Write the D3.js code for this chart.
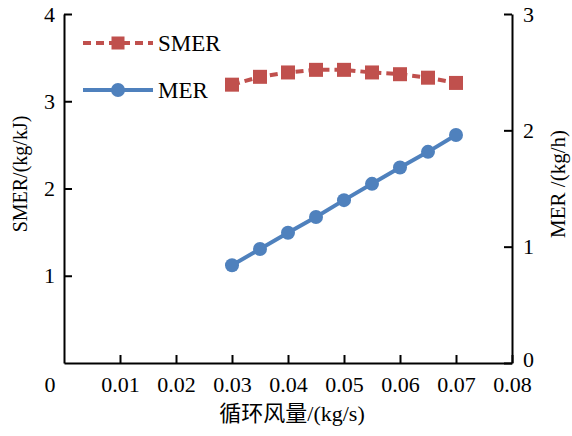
<!DOCTYPE html>
<html>
<head>
<meta charset="utf-8">
<script src="https://cdn.jsdelivr.net/npm/d3@7"></script>
<style>
  body { margin: 0; background: #fff; }
</style>
</head>
<body>
<div id="chart"></div>
<script>
// data
const flow = [0.03, 0.035, 0.04, 0.045, 0.05, 0.055, 0.06, 0.065, 0.07];
const smer = [3.19, 3.28, 3.33, 3.36, 3.36, 3.33, 3.31, 3.27, 3.21];
const mer = [0.84, 0.98, 1.12, 1.255, 1.40, 1.54, 1.68, 1.815, 1.96];
const xTicks = [0.01, 0.02, 0.03, 0.04, 0.05, 0.06, 0.07, 0.08];
const leftTicks = [1, 2, 3, 4];
const rightTicks = [0, 1, 2, 3];

const width = 572, height = 436;
const margin = { top: 14, right: 60, bottom: 73, left: 64 };
const red = '#C0504D', blue = '#4F81BD';
const serif = '"Liberation Serif", "Times New Roman", serif';
const cjk = '"Liberation Serif", "Noto Sans CJK SC", serif';

const svg = d3.select('#chart').append('svg')
  .attr('width', width)
  .attr('height', height)
  .style('font-family', serif);

const x = d3.scaleLinear().domain([0, 0.08]).range([margin.left, width - margin.right]);
const yL = d3.scaleLinear().domain([0, 4]).range([height - margin.bottom, margin.top]);
const yR = d3.scaleLinear().domain([0, 3]).range([height - margin.bottom, margin.top]);

function styleAxis(g) {
  g.attr('font-family', null).attr('font-size', null);
  g.select('.domain').attr('stroke', '#000').attr('stroke-width', 2);
  g.selectAll('.tick line').attr('stroke', '#000').attr('stroke-width', 2);
  g.selectAll('text').style('font-size', '22px').style('font-family', serif).attr('fill', '#000');
}

// x axis - ticks point inward
svg.append('g')
  .attr('transform', `translate(0,${yL(0)})`)
  .call(d3.axisBottom(x).tickValues(xTicks).tickSizeInner(-8).tickSizeOuter(0).tickPadding(13)
    .tickFormat(d => d3.format('.2f')(d)))
  .call(styleAxis);

// x zero label, sits lower-left like the original
svg.append('text')
  .attr('x', 50).attr('y', 392)
  .attr('text-anchor', 'middle')
  .style('font-size', '22px')
  .text('0');

// left axis
svg.append('g')
  .attr('transform', `translate(${x(0)},0)`)
  .call(d3.axisLeft(yL).tickValues(leftTicks).tickSizeInner(-8).tickSizeOuter(0).tickPadding(9)
    .tickFormat(d3.format('d')))
  .call(styleAxis);

// right axis
const gr = svg.append('g')
  .attr('transform', `translate(${x(0.08)},0)`)
  .call(d3.axisRight(yR).tickValues(rightTicks).tickSizeInner(-8).tickSizeOuter(0).tickPadding(11)
    .tickFormat(d3.format('d')))
  .call(styleAxis);
// lift the bottom "0" a little so it clears the 0.08 label
gr.selectAll('.tick text').filter(d => d === 0).attr('dy', '0.15em');

// axis titles
svg.append('text')
  .attr('x', 292).attr('y', 421)
  .attr('text-anchor', 'middle')
  .style('font-size', '22px')
  .style('font-family', cjk)
  .text('循环风量/(kg/s)');

svg.append('text')
  .attr('transform', `translate(27,174) rotate(-90)`)
  .attr('text-anchor', 'middle')
  .style('font-size', '20px')
  .text('SMER/(kg/kJ)');

svg.append('text')
  .attr('transform', `translate(565,184) rotate(-90)`)
  .attr('text-anchor', 'middle')
  .style('font-size', '21px')
  .text('MER /(kg/h)');

// SMER series (dashed, squares)
const lineL = d3.line().x((d, i) => x(flow[i])).y(d => yL(d));
svg.append('path')
  .datum(smer)
  .attr('d', lineL)
  .attr('fill', 'none')
  .attr('stroke', red)
  .attr('stroke-width', 4)
  .attr('stroke-dasharray', '8,5');
svg.selectAll('.sq')
  .data(smer)
  .enter()
  .append('rect')
  .attr('x', (d, i) => x(flow[i]) - 7)
  .attr('y', d => yL(d) - 7)
  .attr('width', 14).attr('height', 14)
  .attr('fill', red);

// MER series (solid, circles)
const lineR = d3.line().x((d, i) => x(flow[i])).y(d => yR(d));
svg.append('path')
  .datum(mer)
  .attr('d', lineR)
  .attr('fill', 'none')
  .attr('stroke', blue)
  .attr('stroke-width', 4);
svg.selectAll('.dot')
  .data(mer)
  .enter()
  .append('circle')
  .attr('cx', (d, i) => x(flow[i]))
  .attr('cy', d => yR(d))
  .attr('r', 7)
  .attr('fill', blue);

// legend
const leg = svg.append('g');
leg.append('line')
  .attr('x1', 83).attr('x2', 153).attr('y1', 43).attr('y2', 43)
  .attr('stroke', red).attr('stroke-width', 4).attr('stroke-dasharray', '8,5');
leg.append('rect')
  .attr('x', 111.5).attr('y', 36.5).attr('width', 13).attr('height', 13).attr('fill', red);
leg.append('text')
  .attr('x', 158).attr('y', 43).attr('dy', '0.35em')
  .style('font-size', '23px').text('SMER');
leg.append('line')
  .attr('x1', 83).attr('x2', 153).attr('y1', 90).attr('y2', 90)
  .attr('stroke', blue).attr('stroke-width', 4);
leg.append('circle')
  .attr('cx', 118).attr('cy', 90).attr('r', 7).attr('fill', blue);
leg.append('text')
  .attr('x', 158).attr('y', 90).attr('dy', '0.35em')
  .style('font-size', '23px').text('MER');
</script>
</body>
</html>
